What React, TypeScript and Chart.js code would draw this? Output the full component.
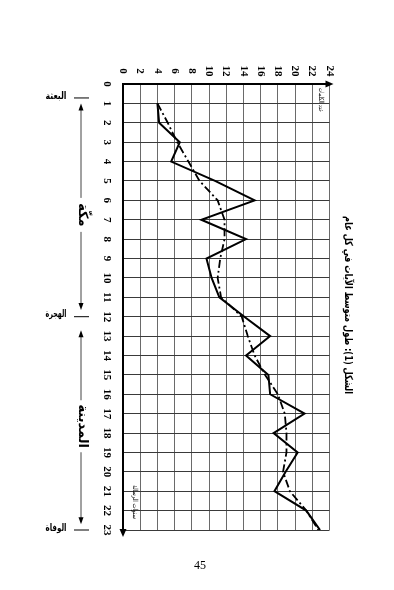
import React, { useEffect, useRef } from "react";
import { Chart, registerables } from "chart.js";

Chart.register(...registerables);

// ---- data ----
const years = [1, 2, 3, 4, 5, 6, 7, 8, 9, 10, 11, 12, 13, 14, 15, 16, 17, 18, 19, 20, 21, 22, 23];
const avgWords = [4.0, 4.2, 6.6, 5.6, 10.7, 15.3, 9.1, 14.3, 9.7, 10.3, 11.2, 14.1, 17.1, 14.3, 16.9, 17.1, 21.1, 17.5, 20.3, 18.9, 17.6, 21.3, 22.9];
const trendWords = [4.0, 5.2, 6.3, 7.6, 8.9, 11.0, 11.8, 11.8, 11.3, 11.0, 11.4, 13.8, 14.5, 15.3, 16.5, 18.0, 18.8, 19.0, 19.0, 18.6, 19.4, 21.3, 22.7];
const xTickValues = [0, 2, 4, 6, 8, 10, 12, 14, 16, 18, 20, 22, 24];
const yTickValues = [0, 1, 2, 3, 4, 5, 6, 7, 8, 9, 10, 11, 12, 13, 14, 15, 16, 17, 18, 19, 20, 21, 22, 23];
const titleText = "الشكل (1): طول متوسط الآيات في كل عام";
const xAxisTitle = "عدد الكلمات";
const yAxisTitle = "سنوات الرسالة";
const eventLabels = ["البعثة", "الهجرة", "الوفاة"];
const eventYears = [0.72, 12, 23];
const periodLabels = ["مكّة", "المدينة"];
const periodFrom = [1.0, 12.7];
const periodTo = [11.65, 22.7];
const periodMid = [6.75, 17.65];
const periodGap = [17, 26];
const pageNumber = "45";

function rText(ctx: CanvasRenderingContext2D, text: string, cx: number, cy: number, maxLen?: number) {
  ctx.save();
  ctx.translate(cx, cy);
  ctx.rotate(Math.PI / 2);
  ctx.textAlign = "center";
  ctx.textBaseline = "middle";
  if (maxLen) {
    const w = ctx.measureText(text).width;
    if (w > maxLen) ctx.scale(maxLen / w, 1);
  }
  ctx.fillText(text, 0, 0);
  ctx.restore();
}

function hText(ctx: CanvasRenderingContext2D, text: string, cx: number, cy: number, maxLen: number) {
  ctx.save();
  ctx.translate(cx, cy);
  ctx.textAlign = "center";
  ctx.textBaseline = "middle";
  const w = ctx.measureText(text).width;
  if (w > maxLen) ctx.scale(maxLen / w, 1);
  ctx.fillText(text, 0, 0);
  ctx.restore();
}

const decor = {
  id: "decor",
  afterDraw(chart: any) {
    const { ctx, scales } = chart;
    const x = scales.x;
    const y = scales.y;
    const x0 = x.getPixelForValue(0);
    const y0 = y.getPixelForValue(0);
    const xEnd = x.getPixelForValue(24) + 4;
    const yEnd = y.getPixelForValue(23) + 7;
    ctx.save();
    ctx.fillStyle = "#000";
    ctx.strokeStyle = "#000";
    // axes with arrows
    ctx.lineWidth = 2;
    ctx.beginPath();
    ctx.moveTo(x0 - 1, y0);
    ctx.lineTo(xEnd - 5, y0);
    ctx.moveTo(x0, y0);
    ctx.lineTo(x0, yEnd - 5);
    ctx.stroke();
    ctx.beginPath();
    ctx.moveTo(xEnd, y0);
    ctx.lineTo(xEnd - 8, y0 - 3.5);
    ctx.lineTo(xEnd - 8, y0 + 3.5);
    ctx.closePath();
    ctx.fill();
    ctx.beginPath();
    ctx.moveTo(x0, yEnd);
    ctx.lineTo(x0 - 3.5, yEnd - 8);
    ctx.lineTo(x0 + 3.5, yEnd - 8);
    ctx.closePath();
    ctx.fill();

    // tick labels (rotated)
    ctx.font = "bold 11px 'Liberation Serif', serif";
    xTickValues.forEach((v) => rText(ctx, String(v), x.getPixelForValue(v), y0 - 13));
    yTickValues.forEach((v) => rText(ctx, String(v), x0 - 16, y.getPixelForValue(v)));

    // title & axis titles
    ctx.direction = "rtl";
    ctx.font = "bold 11px 'DejaVu Sans', sans-serif";
    rText(ctx, titleText, 348, 305, 178);
    ctx.font = "7px 'DejaVu Sans', sans-serif";
    rText(ctx, xAxisTitle, 321, 100, 24);
    rText(ctx, yAxisTitle, 135, 502, 34);

    // events
    ctx.font = "bold 10px 'DejaVu Sans', sans-serif";
    ctx.lineWidth = 1;
    eventYears.forEach((ev, i) => {
      const py = y.getPixelForValue(ev);
      ctx.beginPath();
      ctx.moveTo(74, py);
      ctx.lineTo(89, py);
      ctx.stroke();
      hText(ctx, eventLabels[i], 56, py - 2, 21);
    });

    // periods with arrows
    ctx.strokeStyle = "#444";
    ctx.fillStyle = "#000";
    periodLabels.forEach((lab, i) => {
      const a = y.getPixelForValue(periodFrom[i]);
      const b = y.getPixelForValue(periodTo[i]);
      const m = y.getPixelForValue(periodMid[i]);
      const g = periodGap[i];
      const ax = 81;
      ctx.beginPath();
      ctx.moveTo(ax, a + 5);
      ctx.lineTo(ax, m - g);
      ctx.moveTo(ax, m + g);
      ctx.lineTo(ax, b - 5);
      ctx.stroke();
      ctx.beginPath();
      ctx.moveTo(ax, a);
      ctx.lineTo(ax - 2.5, a + 7);
      ctx.lineTo(ax + 2.5, a + 7);
      ctx.closePath();
      ctx.fill();
      ctx.beginPath();
      ctx.moveTo(ax, b);
      ctx.lineTo(ax - 2.5, b - 7);
      ctx.lineTo(ax + 2.5, b - 7);
      ctx.closePath();
      ctx.fill();
      ctx.font = "bold 13px 'DejaVu Sans', sans-serif";
      rText(ctx, lab, ax + 1, m);
    });

    // page number
    ctx.direction = "ltr";
    ctx.font = "12px 'Liberation Serif', serif";
    ctx.textAlign = "center";
    ctx.textBaseline = "middle";
    ctx.fillText(pageNumber, 200, 566);
    ctx.restore();
  },
};

export default function App() {
  const ref = useRef<HTMLCanvasElement | null>(null);
  useEffect(() => {
    if (!ref.current) return;
    const chart = new Chart(ref.current, {
      type: "scatter",
      data: {
        datasets: [
          {
            label: "avg",
            data: years.map((yr, i) => ({ x: avgWords[i], y: yr })),
            showLine: true,
            borderColor: "#000",
            borderWidth: 2,
            pointRadius: 0,
            tension: 0,
          },
          {
            label: "trend",
            data: years.map((yr, i) => ({ x: trendWords[i], y: yr })),
            showLine: true,
            borderColor: "#000",
            borderWidth: 1.8,
            borderDash: [8, 3, 2, 3],
            pointRadius: 0,
            tension: 0,
          },
        ],
      },
      options: {
        responsive: false,
        animation: false,
        events: [],
        layout: { autoPadding: false, padding: { left: 123, top: 84, right: 64.5, bottom: 60 } },
        plugins: { legend: { display: false }, tooltip: { enabled: false }, title: { display: false } },
        scales: {
          x: {
            type: "linear",
            position: "top",
            min: 0,
            max: 24,
            ticks: { stepSize: 2, display: false },
            grid: { color: "#6a6a6a", lineWidth: 1, drawTicks: false },
            border: { display: false },
          },
          y: {
            type: "linear",
            reverse: true,
            min: 0,
            max: 23,
            ticks: { stepSize: 1, display: false },
            grid: { color: "#3a3a3a", lineWidth: 1, drawTicks: false },
            border: { display: false },
          },
        },
      },
      plugins: [decor],
    });
    return () => chart.destroy();
  }, []);
  return (
    <div style={{ position: "absolute", left: 0, top: 0, width: 394, height: 590, background: "#fff" }}>
      <canvas ref={ref} width={394} height={590} style={{ width: 394, height: 590 }} />
    </div>
  );
}
